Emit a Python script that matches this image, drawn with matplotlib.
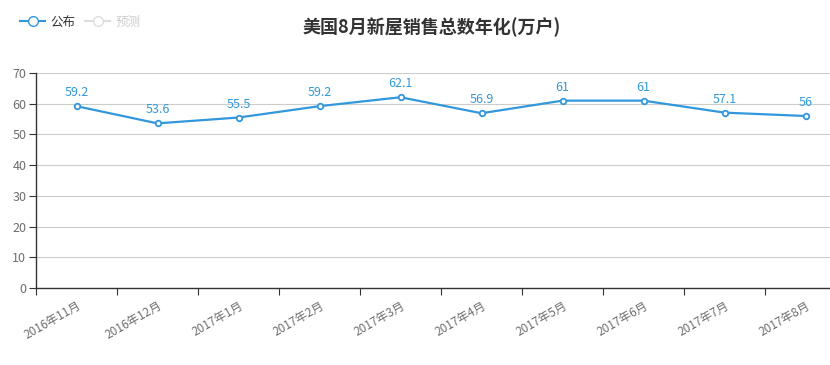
import matplotlib
matplotlib.use("Agg")
import matplotlib.pyplot as plt
from matplotlib.lines import Line2D

plt.rcParams['font.family'] = ['Noto Sans CJK SC', 'DejaVu Sans']

# data
months = ['2016年11月', '2016年12月', '2017年1月', '2017年2月', '2017年3月',
          '2017年4月', '2017年5月', '2017年6月', '2017年7月', '2017年8月']
published = [59.2, 53.6, 55.5, 59.2, 62.1, 56.9, 61, 61, 57.1, 56]
value_labels = ['59.2', '53.6', '55.5', '59.2', '62.1', '56.9', '61', '61', '57.1', '56']
y_ticks = [0, 10, 20, 30, 40, 50, 60, 70]

blue = '#3398DB'
grey_text = '#6e6e6e'

W, H = 830, 365
fig = plt.figure(figsize=(W / 100, H / 100), dpi=100)
# axis spans past the right edge, like the original screenshot
ax = fig.add_axes([36 / W, 77 / H, 810 / W, 215 / H])

x = list(range(len(months)))
ax.plot(x, published, color=blue, lw=1.6, marker='o', ms=4,
        mfc='white', mec=blue, mew=1.3, zorder=3, clip_on=False)
for xi, v, s in zip(x, published, value_labels):
    ax.annotate(s, (xi, v), xytext=(0, 5), textcoords='offset points',
                ha='center', va='bottom', color=blue, fontsize=9)

ax.set_xlim(-0.5, len(months) - 0.5)
ax.set_ylim(0, 70)
ax.set_yticks(y_ticks)
ax.yaxis.grid(True, color='#cccccc', lw=0.8)
ax.set_axisbelow(True)

# ticks on category boundaries, labels on centres
ax.set_xticks([i - 0.5 for i in x])
ax.set_xticklabels([])
ax.set_xticks(x, minor=True)
ax.set_xticklabels(months, minor=True, rotation=30, ha='right',
                   rotation_mode='anchor', color=grey_text, fontsize=8.5)
ax.tick_params(axis='x', which='minor', length=0, pad=8)
ax.tick_params(axis='x', which='major', length=5, color='#333333')
ax.tick_params(axis='y', length=5, color='#333333', labelcolor=grey_text,
               labelsize=9, pad=2)

for side in ['top', 'right']:
    ax.spines[side].set_visible(False)
for side in ['left', 'bottom']:
    ax.spines[side].set_color('#333333')
    ax.spines[side].set_linewidth(1)

fig.text(432 / W, 1 - 27 / H, '美国8月新屋销售总数年化(万户)', ha='center',
         va='center', fontsize=13, fontweight='bold', color='#333333')

handles = [Line2D([], [], color=blue, marker='o', ms=7, mfc='white', mec=blue, lw=1.5),
           Line2D([], [], color='#dddddd', marker='o', ms=7, mfc='white', mec='#dddddd', lw=1.5)]
leg = fig.legend(handles, ['公布', '预测'], loc='center left',
                 bbox_to_anchor=(14 / W, 1 - 22 / H), ncol=2, frameon=False,
                 fontsize=9, handlelength=2.0, handletextpad=0.4,
                 columnspacing=0.8, borderpad=0)
leg.get_texts()[0].set_color('#333333')
leg.get_texts()[1].set_color('#cccccc')

fig.savefig('out.png', dpi=100)
